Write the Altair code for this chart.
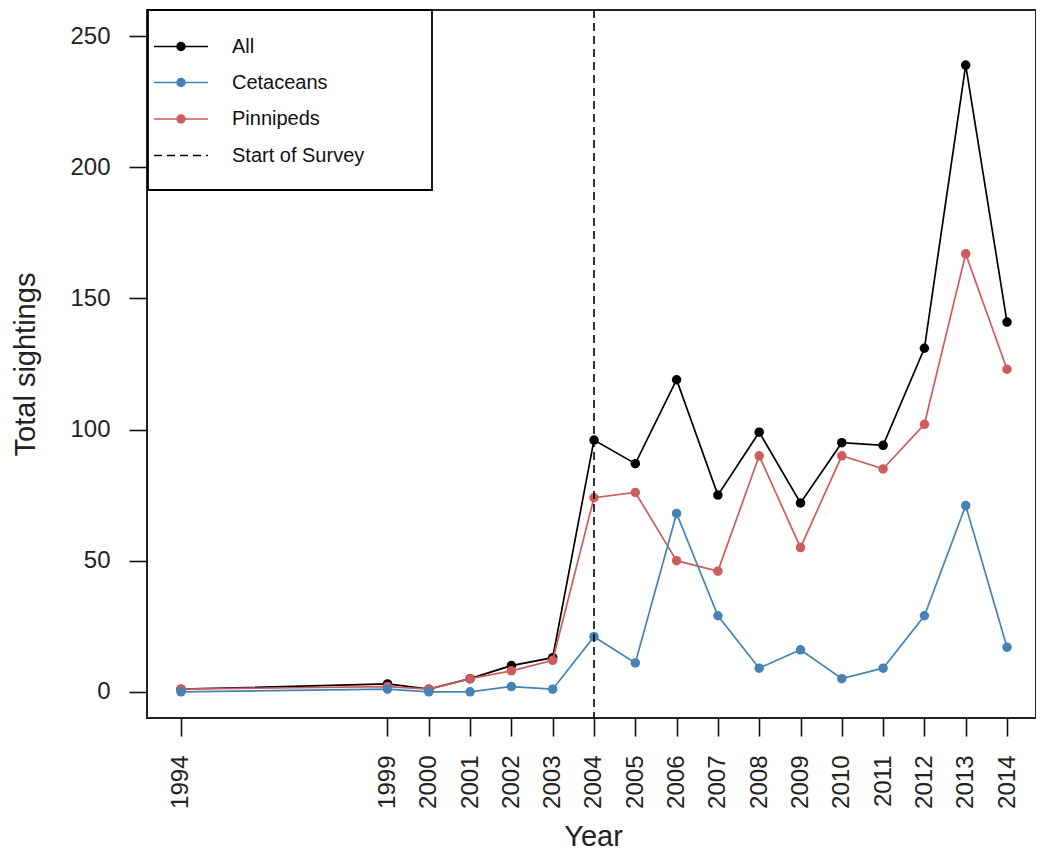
import altair as alt
import pandas as pd

years = [1994, 1999, 2000, 2001, 2002, 2003, 2004, 2005, 2006, 2007,
         2008, 2009, 2010, 2011, 2012, 2013, 2014]
all_sightings = [1, 3, 1, 5, 10, 13, 96, 87, 119, 75, 99, 72, 95, 94, 131, 239, 141]
cetaceans = [0, 1, 0, 0, 2, 1, 21, 11, 68, 29, 9, 16, 5, 9, 29, 71, 17]
pinnipeds = [1, 2, 1, 5, 8, 12, 74, 76, 50, 46, 90, 55, 90, 85, 102, 167, 123]
survey_start = [2004]
y_ticks = [0, 50, 100, 150, 200, 250]

series_names = ["All", "Cetaceans", "Pinnipeds"]
series_colors = ["#000000", "#4682B4", "#CD5C5C"]
legend_labels = ["All", "Cetaceans", "Pinnipeds", "Start of Survey"]

FONT = "Liberation Sans"

x_scale = alt.Scale(domain=[1993.177, 2014.702], nice=False, zero=False)
y_scale = alt.Scale(domain=[-10, 260], nice=False, zero=False)

x_axis = alt.Axis(values=years, labelAngle=270, title="Year", tickSize=18,
                  labelPadding=19, format="d", labelFontSize=24,
                  titleFontSize=29, titleFontWeight="normal",
                  titleX=446, titleY=127, titleBaseline="alphabetic",
                  titleAlign="center", labelFlush=False, labelOverlap=False)
y_axis = alt.Axis(values=y_ticks, title="Total sightings", tickSize=18,
                  labelPadding=19, labelFontSize=24, titleFontSize=29,
                  titleFontWeight="normal", titleAngle=270,
                  titleX=-122, titleY=354, titleBaseline="middle",
                  titleAlign="center", labelFlush=False)

X = alt.X("Year:Q", scale=x_scale, axis=x_axis)
Y = alt.Y("Sightings:Q", scale=y_scale, axis=y_axis)

def series_df(name, vals):
    return pd.DataFrame({"Year": years, "Sightings": vals, "Series": name})

layers = []
data_map = {"All": all_sightings, "Cetaceans": cetaceans, "Pinnipeds": pinnipeds}
color_map = dict(zip(series_names, series_colors))

for name in ["All", "Pinnipeds", "Cetaceans"]:
    df = series_df(name, data_map[name])
    base = alt.Chart(df)
    line = base.mark_line(color=color_map[name], strokeWidth=1.7).encode(x=X, y=Y)
    pts = base.mark_point(color=color_map[name], filled=True, opacity=1, size=90,
                          shape="circle").encode(x=X, y=Y)
    layers += [line, pts]

rule = alt.Chart(pd.DataFrame({"Year": survey_start})).mark_rule(
    color="black", strokeWidth=1.6, strokeDash=[8, 5]).encode(x=X)
layers.append(rule)

# legend box
one = pd.DataFrame({"k": [0]})
legend_box = alt.Chart(one).mark_rect(fill="white", stroke="black", strokeWidth=1.8).encode(
    x=alt.value(1), x2=alt.value(285), y=alt.value(0), y2=alt.value(180))
layers.append(legend_box)

row_y = [36.5, 72.5, 109, 145.5]
leg_colors = series_colors + ["#000000"]
for i, lab in enumerate(legend_labels):
    dash = [8, 5] if lab == "Start of Survey" else [1, 0]
    ln = alt.Chart(one).mark_rule(color=leg_colors[i], strokeWidth=1.7, strokeDash=dash).encode(
        x=alt.value(7), x2=alt.value(61), y=alt.value(row_y[i]))
    layers.append(ln)
    if lab != "Start of Survey":
        dot = alt.Chart(one).mark_point(color=leg_colors[i], filled=True, opacity=1,
                                         size=90, shape="circle").encode(
            x=alt.value(34), y=alt.value(row_y[i]))
        layers.append(dot)
    txt = alt.Chart(one).mark_text(text=lab, align="left", baseline="middle",
                                   font=FONT, fontSize=20, color="#111").encode(
        x=alt.value(85), y=alt.value(row_y[i]))
    layers.append(txt)

chart = alt.layer(*layers).properties(
    width=889, height=708,
    autosize=alt.AutoSizeParams(type="none"),
    padding={"left": 139, "top": 2, "right": 0, "bottom": 137},
    background="white",
).configure_view(
    stroke="#222", strokeWidth=2
).configure_axis(
    grid=False, domain=False, tickColor="#111", tickWidth=1.6,
    labelFont=FONT, titleFont=FONT, labelColor="#222", titleColor="#222",
)

chart.save("out.html", embed_options={"renderer": "svg", "actions": False})
